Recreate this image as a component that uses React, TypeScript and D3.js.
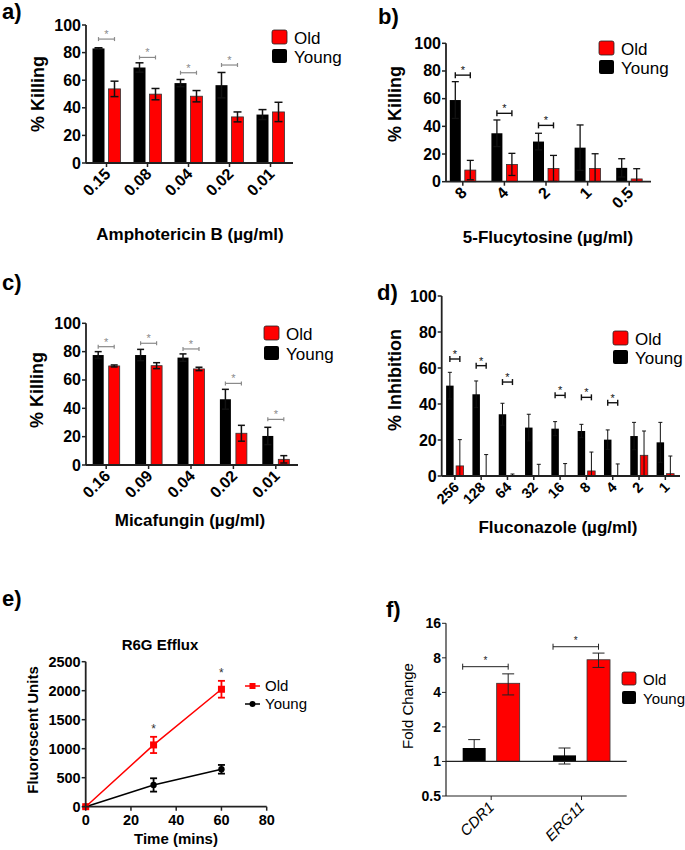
import React from "react";
import * as d3 from "d3";

const FONT = "'Liberation Sans', Arial, Helvetica, sans-serif";
const RED = "#ff0000";

// a) Amphotericin B
const amphoDoses = ["0.15", "0.08", "0.04", "0.02", "0.01"];
const amphoYoung = [83, 69.2, 57.9, 56.4, 35.1];
const amphoYoungErr = [0.5, 3.4, 2.6, 9.2, 3.6];
const amphoOld = [53.7, 49.9, 48.4, 33.4, 37];
const amphoOldErr = [5.6, 4.1, 4.1, 3.6, 7];
const amphoSig = [89.8, 76.5, 65.4, 71, null];

// b) 5-Flucytosine
const flucyDoses = ["8", "4", "2", "1", "0.5"];
const flucyYoung = [59, 35, 29, 24.6, 10];
const flucyYoungErr = [13.3, 9.6, 6, 16.4, 6.6];
const flucyOld = [8.4, 12.5, 9.6, 9.6, 2];
const flucyOldErr = [7, 8, 9.4, 10.6, 7.4];
const flucySig = [77, 49.4, 40.7, null, null];

// c) Micafungin
const micaDoses = ["0.16", "0.09", "0.04", "0.02", "0.01"];
const micaYoung = [77.6, 77.6, 75.8, 46.4, 20.5];
const micaYoungErr = [2.4, 4, 2.6, 7, 6.1];
const micaOld = [69.9, 70.1, 67.8, 22.4, 4];
const micaOldErr = [0.7, 2.1, 1.2, 5.6, 2.6];
const micaSig = [83.5, 85.9, 81.9, 57.6, 32.2];

// d) Fluconazole
const flucoDoses = ["256", "128", "64", "32", "16", "8", "4", "2", "1"];
const flucoYoung = [50.2, 45.4, 34.3, 26.9, 26.3, 25, 20.2, 22.2, 18.7];
const flucoYoungErr = [7.4, 7.4, 6.1, 7.4, 3.9, 3.7, 5.4, 7.6, 11.1];
const flucoOld = [5.6, 0, 0.3, 0, 0, 2.8, 0, 11.5, 1.3];
const flucoOldErr = [14.6, 11.9, 0.8, 6.5, 6.9, 10.5, 6.7, 13.5, 9.8];
const flucoSig = [65, 61.3, 52.2, null, 44.8, 43.7, 40.7, null, null];

const pctTicks = [0, 20, 40, 60, 80, 100];

// e) R6G efflux
const effluxTime = [0, 30, 60];
const effluxOld = [0, 1065, 2025];
const effluxOldErr = [0, 140, 145];
const effluxYoung = [0, 375, 645];
const effluxYoungErr = [0, 115, 75];
const effluxSig = [null, 1207, 2170];
const effluxXTicks = [0, 20, 40, 60, 80];
const effluxYTicks = [0, 500, 1000, 1500, 2000, 2500];

// f) gene expression
const genes = ["CDR1", "ERG11"];
const geneYoung = [1.31, 1.13];
const geneYoungErr = [0.24, 0.18];
const geneOld = [4.8, 7.7];
const geneOldErr = [1.0, 1.1];
const geneSig = [6.7, 10];
const foldTicks = [0.5, 1, 2, 4, 8, 16];

function Legend({ x, y, gap, size, font }) {
  return (
    <g>
      <rect x={x} y={y} width={size} height={size - 1} rx={2} fill={RED} stroke="#222" strokeWidth={0.8} />
      <rect x={x} y={y + gap} width={size} height={size - 1} rx={2} fill="#000" />
      <text x={x + size + 7} y={y + size - 1} fontSize={font} fontFamily={FONT}>Old</text>
      <text x={x + size + 7} y={y + gap + size - 1} fontSize={font} fontFamily={FONT}>Young</text>
    </g>
  );
}

function BarPanel(p) {
  const x = d3.scaleBand().domain(p.cats).range(p.band);
  const y = d3.scaleLinear().domain([0, 100]).range([p.y0, p.y100]);
  const [ax0, ax1] = p.axis;
  const sigColor = p.sigColor;
  return (
    <g fontFamily={FONT}>
      <text x={p.letter[0]} y={p.letter[1]} fontSize={22} fontWeight="bold">{p.letterText}</text>
      {p.cats.map((c, i) => {
        const cx = x(c) + x.bandwidth() / 2;
        const bx = cx - p.gap / 2 - p.barW;
        const rx = cx + p.gap / 2;
        const yv = p.young[i], ov = p.old[i];
        const errLine = (xc, v, e) => {
          const top = y(v + e), bot = y(Math.max(0, v - e));
          return (
            <g stroke="#111" strokeWidth={p.errW}>
              <line x1={xc} x2={xc} y1={top} y2={bot} />
              <line x1={xc - p.cap / 2} x2={xc + p.cap / 2} y1={top} y2={top} />
              {v - e > 0 && <line x1={xc - p.cap / 2} x2={xc + p.cap / 2} y1={bot} y2={bot} />}
            </g>
          );
        };
        const s = p.sig[i];
        return (
          <g key={c}>
            <rect x={bx} y={y(yv)} width={p.barW} height={p.y0 - y(yv)} fill="#000" />
            {errLine(bx + p.barW / 2, yv, p.youngErr[i])}
            {ov > 0 && (
              <rect x={rx} y={y(ov)} width={p.barW} height={p.y0 - y(ov)} fill={RED} stroke="#333" strokeWidth={0.8} />
            )}
            {errLine(rx + p.barW / 2, ov, p.oldErr[i])}
            {s != null && (
              <g stroke={sigColor} strokeWidth={p.sigW}>
                <line x1={bx + p.barW / 2} x2={rx + p.barW / 2} y1={y(s)} y2={y(s)} />
                <line x1={bx + p.barW / 2} x2={bx + p.barW / 2} y1={y(s) - p.sigCap} y2={y(s) + p.sigCap} />
                <line x1={rx + p.barW / 2} x2={rx + p.barW / 2} y1={y(s) - p.sigCap} y2={y(s) + p.sigCap} />
                <text x={cx} y={y(s) - 1} fontSize={11} textAnchor="middle" fill={sigColor} stroke="none">*</text>
              </g>
            )}
            <line x1={cx} x2={cx} y1={p.y0} y2={p.y0 + 4} stroke="#222" strokeWidth={1.5} />
            <text
              transform={`translate(${cx + 5},${p.y0 + 12}) rotate(-45)`}
              textAnchor="end"
              fontSize={p.xFont}
              fontWeight="bold"
            >
              {c}
            </text>
          </g>
        );
      })}
      <line x1={ax0} x2={ax1} y1={p.y0} y2={p.y0} stroke="#222" strokeWidth={1.8} />
      <line x1={ax0} x2={ax0} y1={p.y0} y2={p.y100} stroke="#222" strokeWidth={1.8} />
      {pctTicks.map((t) => (
        <g key={t}>
          <line x1={ax0 - 4} x2={ax0} y1={y(t)} y2={y(t)} stroke="#222" strokeWidth={1.5} />
          <text x={ax0 - 5} y={y(t) + 5.5} textAnchor="end" fontSize={16} fontWeight="bold">{t}</text>
        </g>
      ))}
      <text
        transform={`translate(${p.yLabel[0]},${p.yLabel[1]}) rotate(-90)`}
        textAnchor="middle"
        fontSize={18}
        fontWeight="bold"
      >
        {p.yTitle}
      </text>
      <text x={p.xTitle[0]} y={p.xTitle[1]} textAnchor="middle" fontSize={17} fontWeight="bold">
        {p.xTitleText}
      </text>
      <Legend x={p.legend[0]} y={p.legend[1]} gap={p.legend[2]} size={15} font={17} />
    </g>
  );
}

function EffluxPanel() {
  const x = d3.scaleLinear().domain([0, 80]).range([85.7, 266.7]);
  const y = d3.scaleLinear().domain([0, 2500]).range([806.7, 661.7]);
  const line = d3
    .line<number>()
    .x((d, i) => x(effluxTime[i]))
    .y((d) => y(d));
  const errs = (vals, err, color) =>
    vals.map((v, i) =>
      err[i] > 0 ? (
        <g key={i} stroke={color} strokeWidth={1.8}>
          <line x1={x(effluxTime[i])} x2={x(effluxTime[i])} y1={y(v + err[i])} y2={y(v - err[i])} />
          <line x1={x(effluxTime[i]) - 3.5} x2={x(effluxTime[i]) + 3.5} y1={y(v + err[i])} y2={y(v + err[i])} />
          <line x1={x(effluxTime[i]) - 3.5} x2={x(effluxTime[i]) + 3.5} y1={y(v - err[i])} y2={y(v - err[i])} />
        </g>
      ) : null
    );
  return (
    <g fontFamily={FONT}>
      <text x={2} y={606} fontSize={22} fontWeight="bold">e)</text>
      <text x={160} y={650} textAnchor="middle" fontSize={15} fontWeight="bold">R6G Efflux</text>
      <path d={line(effluxYoung)} fill="none" stroke="#000" strokeWidth={1.5} />
      <path d={line(effluxOld)} fill="none" stroke={RED} strokeWidth={1.5} />
      {errs(effluxYoung, effluxYoungErr, "#000")}
      {errs(effluxOld, effluxOldErr, RED)}
      {effluxYoung.map((v, i) => (
        <circle key={i} cx={x(effluxTime[i])} cy={y(v)} r={3.2} fill="#000" />
      ))}
      {effluxOld.map((v, i) => (
        <rect key={i} x={x(effluxTime[i]) - 3.5} y={y(v) - 3.5} width={7} height={7} fill={RED} />
      ))}
      {effluxSig.map((s, i) =>
        s != null ? (
          <text key={i} x={x(effluxTime[i])} y={y(s) - 4} textAnchor="middle" fontSize={12} fill="#333">*</text>
        ) : null
      )}
      <line x1={x(0)} x2={x(80)} y1={y(0)} y2={y(0)} stroke="#222" strokeWidth={1.8} />
      <line x1={x(0)} x2={x(0)} y1={y(0)} y2={y(2500)} stroke="#222" strokeWidth={1.8} />
      {effluxXTicks.map((t) => (
        <g key={t}>
          <line x1={x(t)} x2={x(t)} y1={y(0)} y2={y(0) + 4} stroke="#222" strokeWidth={1.5} />
          <text x={x(t)} y={825} textAnchor="middle" fontSize={14.5} fontWeight="bold">{t}</text>
        </g>
      ))}
      {effluxYTicks.map((t) => (
        <g key={t}>
          <line x1={x(0) - 4} x2={x(0)} y1={y(t)} y2={y(t)} stroke="#222" strokeWidth={1.5} />
          <text x={x(0) - 5} y={y(t) + 5} textAnchor="end" fontSize={14.5} fontWeight="bold">{t}</text>
        </g>
      ))}
      <text transform="translate(38,730) rotate(-90)" textAnchor="middle" fontSize={15} fontWeight="bold">
        Fluoroscent Units
      </text>
      <text x={176} y={844} textAnchor="middle" fontSize={15} fontWeight="bold">Time (mins)</text>
      <g>
        <line x1={245} x2={260} y1={686} y2={686} stroke={RED} strokeWidth={1.5} />
        <rect x={249.5} y={683} width={6} height={6} fill={RED} />
        <text x={265} y={691} fontSize={15}>Old</text>
        <line x1={245} x2={260} y1={704} y2={704} stroke="#000" strokeWidth={1.5} />
        <circle cx={252.5} cy={704} r={3} fill="#000" />
        <text x={265} y={709} fontSize={15}>Young</text>
      </g>
    </g>
  );
}

function FoldPanel() {
  const x = d3.scaleBand().domain(genes).range([446, 626.7]);
  const y = d3.scaleLog().base(2).domain([0.5, 16]).range([796, 623.3]);
  const barW = 23, gap = 11;
  const base = y(1);
  const err = (xc, v, e, cap) => (
    <g stroke="#222" strokeWidth={1}>
      <line x1={xc} x2={xc} y1={y(v + e)} y2={y(v - e)} />
      <line x1={xc - cap} x2={xc + cap} y1={y(v + e)} y2={y(v + e)} />
      <line x1={xc - cap} x2={xc + cap} y1={y(v - e)} y2={y(v - e)} />
    </g>
  );
  return (
    <g fontFamily={FONT}>
      <text x={386} y={617} fontSize={22} fontWeight="bold">f)</text>
      {genes.map((g, i) => {
        const cx = x(g) + x.bandwidth() / 2;
        const bx = cx - gap / 2 - barW;
        const rx = cx + gap / 2;
        const s = y(geneSig[i]);
        return (
          <g key={g}>
            {err(bx + barW / 2, geneYoung[i], geneYoungErr[i], 6)}
            <rect x={bx} y={y(geneYoung[i])} width={barW} height={base - y(geneYoung[i])} fill="#000" />
            <rect x={rx} y={y(geneOld[i])} width={barW} height={base - y(geneOld[i])} fill={RED} stroke="#333" strokeWidth={0.8} />
            {err(rx + barW / 2, geneOld[i], geneOldErr[i], 6)}
            <g stroke="#222" strokeWidth={1}>
              <line x1={bx} x2={rx + barW / 2} y1={s} y2={s} />
              <line x1={bx} x2={bx} y1={s - 3} y2={s + 3} />
              <line x1={rx + barW / 2} x2={rx + barW / 2} y1={s - 3} y2={s + 3} />
            </g>
            <text x={(bx + rx + barW / 2) / 2} y={s - 3} textAnchor="middle" fontSize={10} fill="#222">*</text>
            <line x1={cx} x2={cx} y1={y(0.5)} y2={y(0.5) + 4} stroke="#222" strokeWidth={1} />
            <text
              transform={`translate(${cx + 4},${y(0.5) + 12}) rotate(-45)`}
              textAnchor="end"
              fontSize={15}
              fontStyle="italic"
            >
              {g}
            </text>
          </g>
        );
      })}
      <line x1={446} x2={626.7} y1={base} y2={base} stroke="#222" strokeWidth={1.2} />
      <line x1={446} x2={626.7} y1={y(0.5)} y2={y(0.5)} stroke="#222" strokeWidth={1.2} />
      <line x1={446} x2={446} y1={y(0.5)} y2={y(16)} stroke="#222" strokeWidth={1.2} />
      {foldTicks.map((t) => (
        <g key={t}>
          <line x1={442} x2={446} y1={y(t)} y2={y(t)} stroke="#222" strokeWidth={1} />
          <text x={441} y={y(t) + 5} textAnchor="end" fontSize={14} fontWeight="bold">{t}</text>
        </g>
      ))}
      <text transform="translate(413,706) rotate(-90)" textAnchor="middle" fontSize={15}>Fold Change</text>
      <Legend x={622} y={672} gap={19} size={14} font={15} />
    </g>
  );
}

export default function App() {
  return (
    <svg width={685} height={850} style={{ position: "absolute", left: 0, top: 0, background: "#fff" }}>
      <rect width={685} height={850} fill="#fff" />
      <BarPanel
        letterText="a)" letter={[2, 19]}
        cats={amphoDoses} young={amphoYoung} youngErr={amphoYoungErr} old={amphoOld} oldErr={amphoOldErr} sig={amphoSig}
        band={[86, 291]} axis={[86, 293]} y0={163} y100={25}
        barW={12} gap={4} cap={8} errW={1.5} xFont={16}
        sigColor="#8a8a8a" sigW={1.2} sigCap={2}
        yTitle="% Killing" yLabel={[44, 94]}
        xTitleText="Amphotericin B (µg/ml)" xTitle={[190, 240]}
        legend={[272, 30, 19]}
      />
      <BarPanel
        letterText="b)" letter={[378, 24]}
        cats={flucyDoses} young={flucyYoung} youngErr={flucyYoungErr} old={flucyOld} oldErr={flucyOldErr} sig={flucySig}
        band={[442, 650]} axis={[446, 651]} y0={181.7} y100={43.3}
        barW={11} gap={4} cap={7} errW={1.3} xFont={16}
        sigColor="#111" sigW={1.4} sigCap={3}
        yTitle="% Killing" yLabel={[401, 104]}
        xTitleText="5-Flucytosine (µg/ml)" xTitle={[548, 243]}
        legend={[599, 41, 19]}
      />
      <BarPanel
        letterText="c)" letter={[2, 290]}
        cats={micaDoses} young={micaYoung} youngErr={micaYoungErr} old={micaOld} oldErr={micaOldErr} sig={micaSig}
        band={[85, 297]} axis={[86, 298]} y0={465} y100={323.3}
        barW={11} gap={5} cap={7} errW={1.5} xFont={16}
        sigColor="#8a8a8a" sigW={1.2} sigCap={2}
        yTitle="% Killing" yLabel={[43, 390]}
        xTitleText="Micafungin (µg/ml)" xTitle={[190, 526]}
        legend={[264, 326, 20]}
      />
      <BarPanel
        letterText="d)" letter={[377, 300]}
        cats={flucoDoses} young={flucoYoung} youngErr={flucoYoungErr} old={flucoOld} oldErr={flucoOldErr} sig={flucoSig}
        band={[441.7, 678.5]} axis={[441.7, 680]} y0={476} y100={296}
        barW={7.5} gap={2.5} cap={4} errW={1} xFont={14.5}
        sigColor="#111" sigW={1.4} sigCap={3}
        yTitle="% Inhibition" yLabel={[401, 380]}
        xTitleText="Fluconazole (µg/ml)" xTitle={[558, 533]}
        legend={[613, 331, 19]}
      />
      <EffluxPanel />
      <FoldPanel />
    </svg>
  );
}
